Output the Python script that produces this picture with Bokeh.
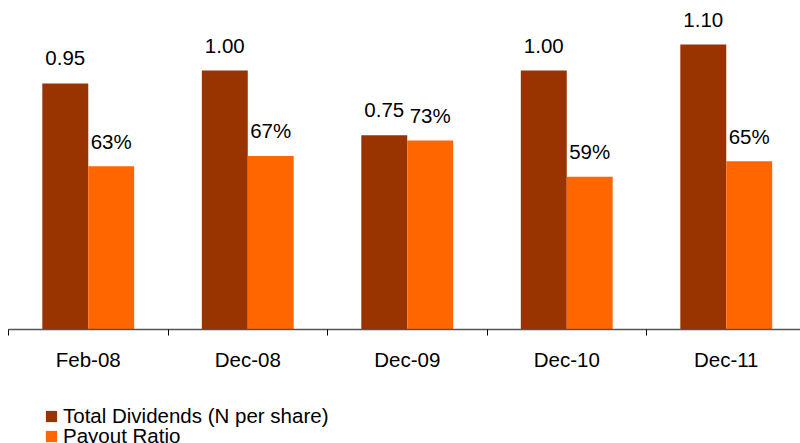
from bokeh.plotting import figure
from bokeh.layouts import column
from bokeh.models import ColumnDataSource, Range1d, FixedTicker, Legend, LegendItem
from bokeh.core.properties import value
from bokeh.embed import file_html
from bokeh.resources import INLINE

# ---- data ----
periods = ["Feb-08", "Dec-08", "Dec-09", "Dec-10", "Dec-11"]
dividends = [0.95, 1.00, 0.75, 1.00, 1.10]      # N per share
payout_pct = [63, 67, 73, 59, 65]               # %
series_names = ["Total Dividends (N per share)", "Payout Ratio"]

DIV_COLOR = "#993300"
PAY_COLOR = "#FF6600"
FONT = "Liberation Sans"
FS = "20.5px"
BAR_W = 0.288

x_center = [i + 0.5 for i in range(len(periods))]
src = ColumnDataSource(dict(
    xd=[c - BAR_W / 2 for c in x_center],
    xp=[c + BAR_W / 2 for c in x_center],
    div=dividends,
    pay=[v / 100 for v in payout_pct],
    div_lbl=[f"{v:.2f}" for v in dividends],
    pay_lbl=[f"{v}%" for v in payout_pct],
))

p = figure(width=800, frame_width=792, frame_height=329,
           x_range=Range1d(0, 792 / 159.5), y_range=Range1d(0, 329 / 259),
           output_backend="svg", toolbar_location=None,
           min_border_left=8, min_border_right=0, min_border_top=0, min_border_bottom=0,
           y_axis_location=None, outline_line_color=None)
p.grid.visible = False

p.vbar(x="xd", top="div", width=BAR_W, source=src, fill_color=DIV_COLOR, line_color=None)
p.vbar(x="xp", top="pay", width=BAR_W, source=src, fill_color=PAY_COLOR, line_color=None)

p.text(x="xd", y="div", text="div_lbl", source=src, text_align="center",
       text_baseline="alphabetic", y_offset=-25, text_font=value(FONT),
       text_font_size=FS, text_color="#000000")
p.text(x="xp", y="pay", text="pay_lbl", source=src, text_align="center",
       text_baseline="alphabetic", y_offset=-25, text_font=value(FONT),
       text_font_size=FS, text_color="#000000")

ax = p.xaxis[0]
ax.ticker = FixedTicker(ticks=x_center, minor_ticks=list(range(len(periods) + 1)))
ax.major_label_overrides = {c: lbl for c, lbl in zip(x_center, periods)}
ax.major_tick_out = 0
ax.major_tick_in = 0
ax.minor_tick_out = 6
ax.minor_tick_in = 0
ax.minor_tick_line_color = "#000000"
ax.axis_line_color = "#555555"
ax.axis_line_width = 1.5
ax.major_label_standoff = 12
ax.major_label_text_font = FONT
ax.major_label_text_font_size = FS
ax.major_label_text_color = "#000000"

# ---- legend strip below the chart ----
lg = figure(width=800, height=72, x_range=Range1d(0, 1), y_range=Range1d(0, 1),
            output_backend="svg", toolbar_location=None, min_border=0,
            x_axis_location=None, y_axis_location=None, outline_line_color=None)
lg.grid.visible = False
# legend-key renderers (placed outside the visible range; only their swatches show)
ld = lg.vbar(x=[-1], top=[0], width=0.1, fill_color=DIV_COLOR, line_color=None)
lp = lg.vbar(x=[-1], top=[0], width=0.1, fill_color=PAY_COLOR, line_color=None)

for name, rend, loc in [(series_names[0], ld, (36, 17)), (series_names[1], lp, (36, -3))]:
    leg = Legend(items=[LegendItem(label=name, renderers=[rend])],
                 location=loc, orientation="vertical", margin=0, padding=0,
                 glyph_width=14, glyph_height=14, label_height=19,
                 label_standoff=5, label_text_font=FONT, label_text_font_size=FS,
                 label_text_color="#000000",
                 border_line_color=None, background_fill_alpha=0)
    lg.add_layout(leg)

open("out.html", "w").write(file_html(column(p, lg, spacing=0), INLINE))
